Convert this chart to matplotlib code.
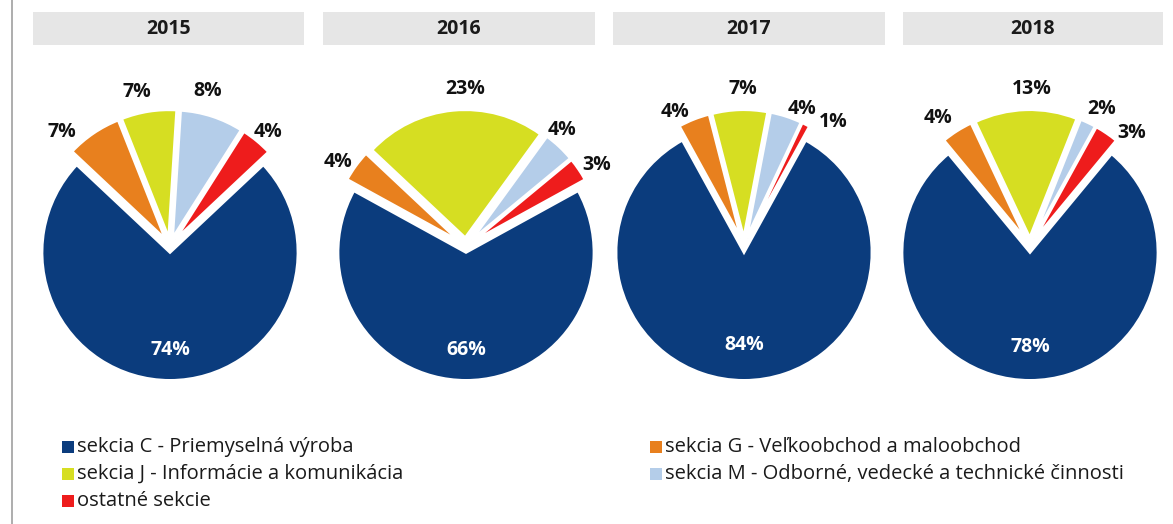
import matplotlib
matplotlib.use("Agg")
import matplotlib.pyplot as plt
from matplotlib.patches import Rectangle
import numpy as np

plt.rcParams['font.family'] = ['Open Sans', 'DejaVu Sans']

years = ["2015", "2016", "2017", "2018"]
categories = [
    "sekcia C - Priemyselná výroba",
    "sekcia G - Veľkoobchod a maloobchod",
    "sekcia J - Informácie a komunikácia",
    "sekcia M - Odborné, vedecké a technické činnosti",
    "ostatné sekcie",
]
colors = ["#0b3c7d", "#e8801e", "#d6de22", "#b4cde9", "#ee1c1c"]

v2015 = [74, 7, 7, 8, 4]
v2016 = [66, 4, 23, 4, 3]
v2017 = [84, 4, 7, 4, 1]
v2018 = [78, 4, 13, 2, 3]
values = [v2015, v2016, v2017, v2018]

# label placement tweaks (layout only): angular nudge in degrees, radial distance
label_nudge = [
    [0, 9.3, 3.1, 4.3, -1.1],
    [0, 2.7, -5.0, 3.6, -2.5],
    [0, 5.6, -1.4, -5.0, -8.7],
    [0, 3.3, -2.5, -2.5, -7.9],
]
label_dist = [
    [0.81, 1.23, 1.23, 1.25, 1.17],
    [0.81, 1.20, 1.23, 1.18, 1.20],
    [0.77, 1.18, 1.23, 1.16, 1.19],
    [0.79, 1.23, 1.23, 1.21, 1.19],
]

W, H = 1173, 524
fig = plt.figure(figsize=(W / 100, H / 100), dpi=100)

# left vertical rule
fig.add_artist(plt.Line2D([12 / W, 12 / W], [0, 1], color="#a0a0a0", lw=1.2,
                          transform=fig.transFigure))

headers = [(33, 304), (323, 595), (613, 885), (903, 1163)]
centers = [(170, 246), (466, 246), (744, 246), (1030, 246)]
R = 128  # pixels

for yr, (x0, x1) in zip(years, headers):
    fig.add_artist(Rectangle((x0 / W, 1 - 45 / H), (x1 - x0) / W, 33 / H,
                             transform=fig.transFigure, facecolor="#e6e6e6",
                             edgecolor="none"))
    fig.text((x0 + x1) / 2 / W, 1 - 28.5 / H, yr, ha="center", va="center",
             fontsize=14, fontweight="bold", color="#1a1a1a")

box = 340
for k, (vals, (cx, cy)) in enumerate(zip(values, centers)):
    ax = fig.add_axes([(cx - box / 2) / W, 1 - (cy + box / 2) / H, box / W, box / H])
    total = sum(vals)
    start = -90 + 180 * vals[0] / total  # blue centered at bottom
    explode = [0.05] + [0.065] * (len(vals) - 1)
    wedges, _ = ax.pie(vals, colors=colors, startangle=start, counterclock=False,
                       explode=explode, radius=1.0,
                       wedgeprops=dict(edgecolor="white", linewidth=2))
    lim = box / 2 / R
    ax.set_xlim(-lim, lim)
    ax.set_ylim(-lim, lim)
    ax.set_aspect("equal")
    ax.axis("off")
    for i, w in enumerate(wedges):
        th = np.deg2rad((w.theta1 + w.theta2) / 2 + label_nudge[k][i])
        d = label_dist[k][i]
        col = "white" if i == 0 else "#111111"
        ax.text(d * np.cos(th), d * np.sin(th), f"{vals[i]}%",
                ha="center", va="center", fontsize=14, fontweight="bold",
                color=col)

# legend
leg_pos = [(62, 447), (650, 447), (62, 474), (650, 474), (62, 501)]
for (lx, ly), lab, col in zip(leg_pos, categories, colors):
    fig.add_artist(Rectangle((lx / W, 1 - (ly + 6) / H), 12 / W, 12 / H,
                             transform=fig.transFigure, facecolor=col,
                             edgecolor="none"))
    fig.text((lx + 15) / W, 1 - ly / H, lab, ha="left", va="center",
             fontsize=14.5, color="#1a1a1a")

fig.savefig("out.png", dpi=100, facecolor="white")
